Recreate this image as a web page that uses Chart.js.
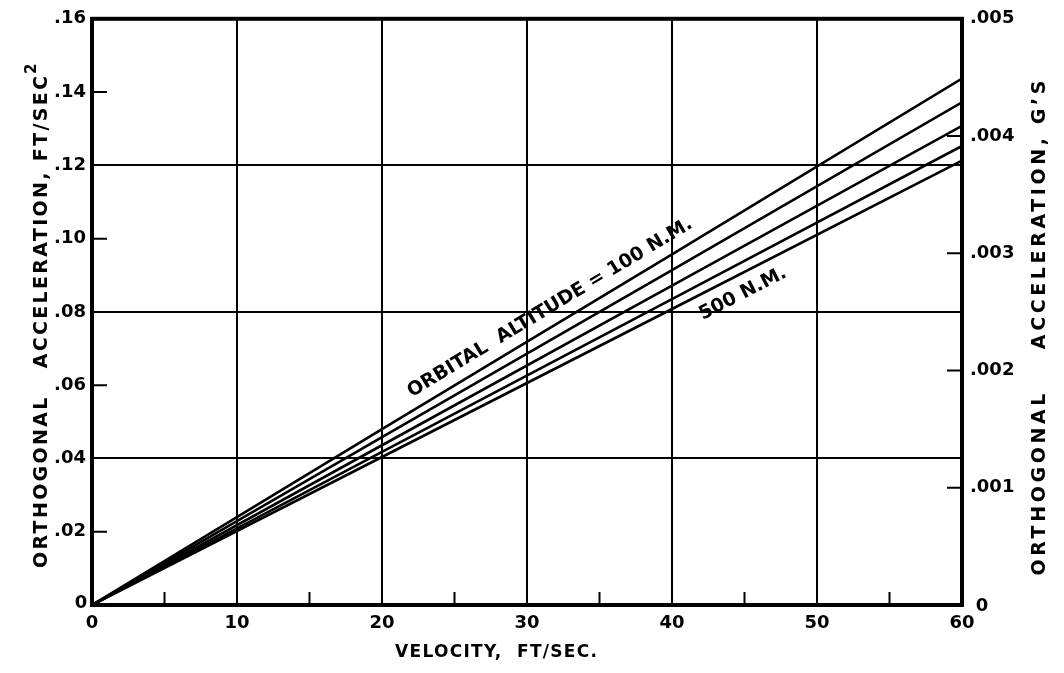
<!DOCTYPE html>
<html>
<head>
<meta charset="utf-8">
<script src="https://cdn.jsdelivr.net/npm/chart.js@4"></script>
<style>
  html, body { margin: 0; padding: 0; background: #fff; }
  #wrap { width: 1064px; height: 673px; }
</style>
</head>
<body>
<div id="wrap"><canvas id="chart" width="1064" height="673"></canvas></div>
<script>
// velocity, ft/sec
var velocity = [0, 20, 40, 60];
// orthogonal acceleration, ft/sec^2, one line per orbital altitude
var alt100 = [0, 0.0480, 0.0957, 0.1437];
var alt200 = [0, 0.0458, 0.0914, 0.1372];
var alt300 = [0, 0.0436, 0.0872, 0.1308];
var alt400 = [0, 0.0418, 0.0835, 0.1253];
var alt500 = [0, 0.0404, 0.0808, 0.1213];
var altitudes = ['100 N.M.', '200 N.M.', '300 N.M.', '400 N.M.', '500 N.M.'];

var xTicks = [0, 10, 20, 30, 40, 50, 60];
var xMinorTicks = [5, 15, 25, 35, 45, 55];
var yMinorTicks = [0.02, 0.06, 0.10, 0.14];
var gTicks = [0.001, 0.002, 0.003, 0.004];

var FONT = '"DejaVu Sans", "Liberation Sans", sans-serif';

function makeSet(label, vals) {
    return {
        label: label,
        data: velocity.map(function(v, i) { return { x: v, y: vals[i] }; }),
        borderColor: '#000',
        borderWidth: 2.6,
        pointRadius: 0,
        fill: false,
        tension: 0
    };
}

// draw text centred at 0,0, spread out with letter spacing to about len pixels
function spaced(ctx, text, len) {
    ctx.letterSpacing = '0px';
    var w = ctx.measureText(text).width;
    var sp = Math.max(0, (len - w) / Math.max(1, text.length - 1));
    ctx.letterSpacing = sp.toFixed(2) + 'px';
    ctx.textAlign = 'center';
    ctx.fillText(text, sp / 2, 0);
    ctx.letterSpacing = '0px';
    return Math.max(w, len);
}

// short inward ticks, frame, titles and the curve labels
var paperPlugin = {
    id: 'paper',
    afterDraw: function(chart) {
        var ctx = chart.ctx;
        var a = chart.chartArea;
        var xs = chart.scales.x, ys = chart.scales.y, gs = chart.scales.y2;
        ctx.save();
        ctx.strokeStyle = '#000';
        ctx.lineWidth = 2;
        ctx.beginPath();
        xMinorTicks.forEach(function(v) {
            var px = xs.getPixelForValue(v);
            ctx.moveTo(px, a.bottom); ctx.lineTo(px, a.bottom - 13);
        });
        yMinorTicks.forEach(function(v) {
            var py = ys.getPixelForValue(v);
            ctx.moveTo(a.left, py); ctx.lineTo(a.left + 15, py);
        });
        gTicks.forEach(function(v) {
            var py = gs.getPixelForValue(v);
            ctx.moveTo(a.right, py); ctx.lineTo(a.right - 15, py);
        });
        ctx.stroke();

        // heavy frame
        ctx.lineWidth = 4;
        ctx.strokeRect(a.left, a.top, a.right - a.left, a.bottom - a.top);

        ctx.fillStyle = '#000';
        ctx.textBaseline = 'middle';

        // zero labels set a little off the corners
        ctx.font = 'bold 18px ' + FONT;
        ctx.textAlign = 'center';
        ctx.fillText('0', a.left - 11, a.bottom - 2);
        ctx.fillText('0', a.right + 20, a.bottom + 1);

        // left title (bottom to top)
        ctx.font = 'bold 19px ' + FONT;
        ctx.save();
        ctx.translate(a.left - 50, 322);
        ctx.rotate(-Math.PI / 2);
        var w = spaced(ctx, 'ORTHOGONAL   ACCELERATION, FT/SEC', 492);
        ctx.font = 'bold 15px ' + FONT;
        ctx.textAlign = 'left';
        ctx.fillText('2', w / 2 + 2, -10);
        ctx.restore();

        // right title (bottom to top)
        ctx.font = 'bold 19px ' + FONT;
        ctx.save();
        ctx.translate(a.right + 78, 328);
        ctx.rotate(-Math.PI / 2);
        spaced(ctx, 'ORTHOGONAL    ACCELERATION, G\u2019S', 495);
        ctx.restore();

        // bottom title
        ctx.save();
        ctx.translate(496, 653);
        ctx.font = 'bold 17px ' + FONT;
        spaced(ctx, 'VELOCITY,  FT/SEC.', 202);
        ctx.restore();

        // labels along the top and bottom lines
        var n = velocity.length - 1;
        function place(vals, xv, off, text, len) {
            var x0 = xs.getPixelForValue(velocity[0]), y0 = ys.getPixelForValue(vals[0]);
            var x1 = xs.getPixelForValue(velocity[n]), y1 = ys.getPixelForValue(vals[n]);
            var ang = Math.atan2(y1 - y0, x1 - x0);
            var t = (xv - velocity[0]) / (velocity[n] - velocity[0]);
            var px = x0 + (x1 - x0) * t, py = y0 + (y1 - y0) * t;
            px += -Math.sin(ang) * off;
            py += Math.cos(ang) * off;
            ctx.save();
            ctx.translate(px, py);
            ctx.rotate(ang);
            ctx.font = 'bold 19px ' + FONT;
            spaced(ctx, text, len);
            ctx.restore();
        }
        place(alt100, 32.2, -17, 'ORBITAL  ALTITUDE = 100 N.M.', 328);
        place(alt500, 44.3, 19, '500 N.M.', 92);
        ctx.restore();
    }
};

var ctx = document.getElementById('chart').getContext('2d');
var chart = new Chart(ctx, {
    type: 'line',
    data: {
        datasets: [
            makeSet(altitudes[0], alt100),
            makeSet(altitudes[1], alt200),
            makeSet(altitudes[2], alt300),
            makeSet(altitudes[3], alt400),
            makeSet(altitudes[4], alt500)
        ]
    },
    options: {
        responsive: false,
        animation: false,
        layout: { padding: { top: 16, right: 0, left: 0, bottom: 0 } },
        plugins: { legend: { display: false }, tooltip: { enabled: false } },
        scales: {
            x: {
                type: 'linear',
                min: 0, max: 60,
                afterBuildTicks: function(s) { s.ticks = xTicks.map(function(v) { return { value: v }; }); },
                afterFit: function(s) { s.height = 68; },
                ticks: { color: '#000', font: { family: FONT, weight: 'bold', size: 18 }, padding: 8, maxRotation: 0 },
                grid: {
                    color: function(c) { return (c.tick && (c.tick.value === 0 || c.tick.value === 60)) ? 'rgba(0,0,0,0)' : '#000'; },
                    lineWidth: 2,
                    drawTicks: false
                },
                border: { display: false }
            },
            y: {
                position: 'left',
                min: 0, max: 0.16,
                ticks: {
                    stepSize: 0.02,
                    color: '#000',
                    font: { family: FONT, weight: 'bold', size: 18 },
                    padding: 6,
                    callback: function(v) {
                        if (v === 0) return '';
                        return '.' + String(Math.round(v * 100)).padStart(2, '0');
                    }
                },
                afterFit: function(s) { s.width = 92; },
                grid: {
                    color: function(c) {
                        if (!c.tick) return 'rgba(0,0,0,0)';
                        var k = Math.round(c.tick.value * 100);
                        return (k % 4 === 0 && k !== 0 && k !== 16) ? '#000' : 'rgba(0,0,0,0)';
                    },
                    lineWidth: 2,
                    drawTicks: false
                },
                border: { display: false }
            },
            y2: {
                position: 'right',
                min: 0, max: 0.005,
                ticks: {
                    stepSize: 0.001,
                    color: '#000',
                    font: { family: FONT, weight: 'bold', size: 18 },
                    padding: 8,
                    callback: function(v) {
                        if (v === 0) return '';
                        return '.00' + Math.round(v * 1000);
                    }
                },
                afterFit: function(s) { s.width = 102; },
                grid: { drawOnChartArea: false, drawTicks: false },
                border: { display: false }
            }
        }
    },
    plugins: [paperPlugin]
});
</script>
</body>
</html>
